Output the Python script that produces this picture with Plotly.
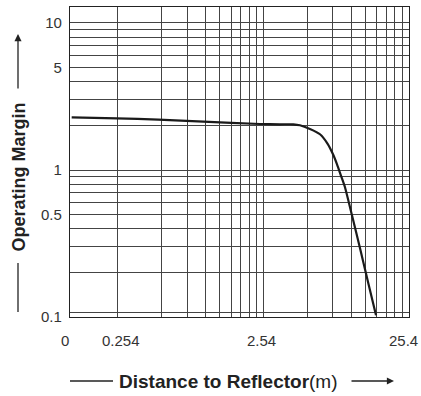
import numpy as np
import plotly.graph_objects as go

# ---- data ----
distance_m = [0.1227, 0.250, 0.483, 0.983, 2.41, 3.30, 4.08, 4.53, 5.31, 6.22,
              7.00, 7.64, 8.14, 8.67, 9.23, 10.31, 11.71, 13.35, 15.08]
operating_margin = [2.283, 2.247, 2.202, 2.134, 2.055, 2.046, 2.046, 2.014, 1.900,
                    1.750, 1.512, 1.279, 1.093, 0.913, 0.763, 0.492, 0.2934, 0.1696, 0.1027]

x_grid_vals = [0.254 * k for k in range(1, 10)] + [2.54 * k for k in range(1, 11)]
x_tick_vals = [0.254, 2.54, 25.4]
x_tick_text = ["0.254", "2.54", "25.4"]
x_zero_label = "0"

y_grid_vals = [0.1, 0.108, 0.2, 0.3, 0.4, 0.5, 0.6, 0.7, 0.8, 0.9,
               1, 2, 3, 4, 5, 6, 7, 8, 9, 10]
y_label_map = {0.1: "0.1", 0.5: "0.5", 1: "1", 5: "5", 10: "10"}

x_title = "<b>Distance to Reflector</b>(m)"
y_title = "<b>Operating Margin</b>"

# ---- layout geometry ----
W, H = 421, 396
ML, MR, MT, MB = 70, 12, 7, 79
PW, PH = W - ML - MR, H - MT - MB
X_RANGE = [-0.9227, np.log10(25.4)]
Y_RANGE = [-1.0, 1.1088]
FONT = "Liberation Sans, Arial, sans-serif"
GRID = "#444444"


def px2paper_x(px):
    return (px - ML) / PW


def py2paper_y(py):
    return (MT + PH - py) / PH


fig = go.Figure()
fig.add_trace(go.Scatter(
    x=distance_m, y=operating_margin, mode="lines",
    line=dict(color="#1a1a1a", width=2.2, shape="spline", smoothing=0.5),
    hoverinfo="skip", showlegend=False,
))

fig.update_xaxes(
    type="log", range=X_RANGE, tickmode="array", tickvals=x_grid_vals,
    showticklabels=False, showgrid=True, gridcolor=GRID, gridwidth=1,
    showline=True, mirror=True, linecolor="#222222", linewidth=1.3,
    ticks="", zeroline=False, automargin=False,
)
fig.update_yaxes(
    type="log", range=Y_RANGE, tickmode="array", tickvals=y_grid_vals,
    ticktext=[y_label_map.get(v, "") for v in y_grid_vals],
    showgrid=True, gridcolor=GRID, gridwidth=1,
    showline=True, mirror=True, linecolor="#222222", linewidth=1.3,
    ticks="", ticklabelstandoff=4, zeroline=False, automargin=False,
    tickfont=dict(family=FONT, size=15, color="#333333"),
)

ann = []
lab_y = py2paper_y(340)
tick_font = dict(family=FONT, size=15, color="#333333")
ann.append(dict(x=0, y=lab_y, xref="paper", yref="paper", text=x_zero_label,
                xanchor="center", yanchor="middle",
                showarrow=False, xshift=-5, font=tick_font))
shifts = [3, -2, -6]
for v, t, s in zip(x_tick_vals, x_tick_text, shifts):
    ann.append(dict(x=np.log10(v), y=lab_y, xref="x", yref="paper", text=t,
                    xanchor="center", yanchor="middle",
                    showarrow=False, xshift=s, font=tick_font))

ann.append(dict(x=px2paper_x(228.5), y=py2paper_y(381), xref="paper", yref="paper",
                text=x_title, showarrow=False, xanchor="center", yanchor="middle",
                font=dict(family=FONT, size=19, color="#222222")))
ann.append(dict(x=px2paper_x(394), y=py2paper_y(381), xref="paper", yref="paper",
                text="", showarrow=True, ax=-44, ay=0, arrowhead=2, arrowsize=1.1,
                arrowwidth=1.3, arrowcolor="#222222"))
ann.append(dict(x=px2paper_x(18), y=py2paper_y(177.5), xref="paper", yref="paper",
                text=y_title, textangle=-90, showarrow=False,
                xanchor="center", yanchor="middle",
                font=dict(family=FONT, size=18, color="#222222")))
ann.append(dict(x=px2paper_x(18), y=py2paper_y(34), xref="paper", yref="paper",
                text="", showarrow=True, ax=0, ay=56, arrowhead=2, arrowsize=1.1,
                arrowwidth=1.3, arrowcolor="#222222"))

shapes = [
    dict(type="line", xref="paper", yref="paper",
         x0=px2paper_x(70), x1=px2paper_x(113), y0=py2paper_y(381), y1=py2paper_y(381),
         line=dict(color="#222222", width=1.3)),
    dict(type="line", xref="paper", yref="paper",
         x0=px2paper_x(18), x1=px2paper_x(18), y0=py2paper_y(312), y1=py2paper_y(263),
         line=dict(color="#222222", width=1.3)),
]

fig.update_layout(
    width=W, height=H, margin=dict(l=ML, r=MR, t=MT, b=MB),
    paper_bgcolor="white", plot_bgcolor="white",
    annotations=ann, shapes=shapes, showlegend=False,
    font=dict(family=FONT),
)

fig.write_html("out.html", config={"displayModeBar": False},
               post_script="document.body.style.margin='0';")
